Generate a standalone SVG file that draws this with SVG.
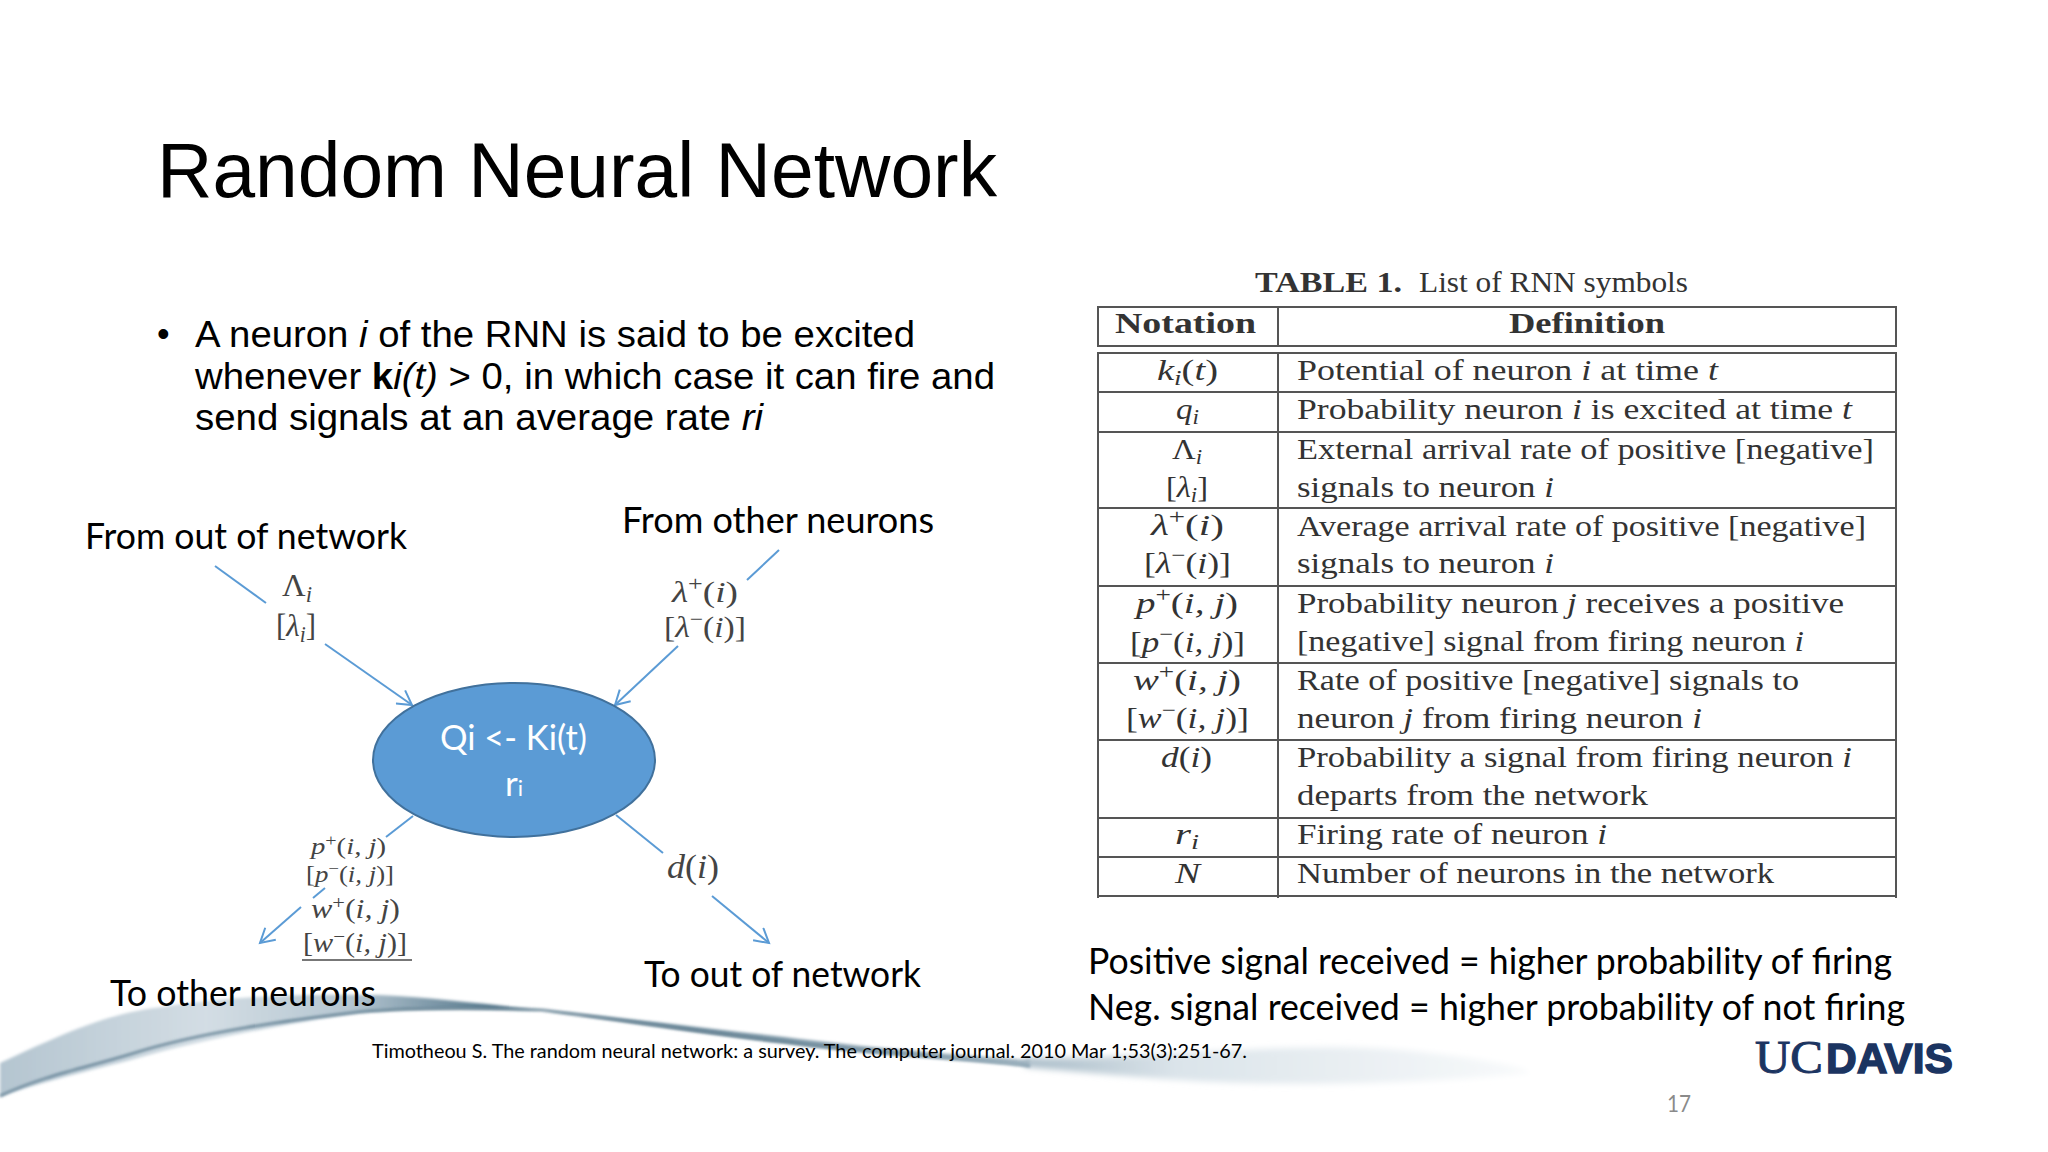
<svg xmlns="http://www.w3.org/2000/svg" width="2048" height="1152" viewBox="0 0 2048 1152">
<style>
.t{font-family:"Liberation Serif",serif;font-size:30px;fill:#333}
.m{font-family:"Liberation Serif",serif;font-size:30px;fill:#333;text-anchor:start}
.dm{font-family:"Liberation Serif",serif;fill:#444}
.i{font-style:italic}
.s{font-size:.7em}
.c{font-family:Lato,"Liberation Sans",sans-serif;fill:#000}
.rule{stroke:#555;stroke-width:2;fill:none}
.conn{stroke:#5b9bd5;stroke-width:2;fill:none}
</style>
<defs>
<marker id="open" markerWidth="18" markerHeight="18" refX="15" refY="9" orient="auto" markerUnits="userSpaceOnUse"><path d="M1 1L15 9L1 17" fill="none" stroke="#5b9bd5" stroke-width="2"/></marker>
<linearGradient id="sw" x1="0" y1="0" x2="1" y2="0"><stop offset="0" stop-color="#b4c5d0"/><stop offset=".2" stop-color="#d3dde4"/><stop offset=".34" stop-color="#b5c6d1"/><stop offset=".48" stop-color="#54768a"/><stop offset=".75" stop-color="#7c96a6"/><stop offset="1" stop-color="#a4b7c3"/></linearGradient>
<linearGradient id="tail" x1="0" y1="0" x2="1" y2="0"><stop offset="0" stop-color="#a9bcc8"/><stop offset=".3" stop-color="#dbe4ea"/><stop offset="1" stop-color="#f8fafb"/></linearGradient>
<linearGradient id="edge" x1="0" y1="0" x2="1" y2="0"><stop offset="0" stop-color="#56778c"/><stop offset=".7" stop-color="#46687c"/><stop offset="1" stop-color="#7f9aaa"/></linearGradient>
<filter id="b1" x="-5%" y="-20%" width="110%" height="140%"><feGaussianBlur stdDeviation="1.5"/></filter>
<filter id="b2" x="-5%" y="-50%" width="110%" height="200%"><feGaussianBlur stdDeviation="3"/></filter>
</defs>
<rect width="2048" height="1152" fill="#fff"/>

<g id="swoosh">
<path d="M1025 1058C1150 1060 1300 1040 1400 1050C1470 1056 1530 1068 1530 1073C1440 1082 1300 1088 1180 1080C1120 1076 1060 1070 1025 1067Z" fill="url(#tail)" filter="url(#b2)"/>
<path d="M0 1063C60 1035 110 1012 163 1007C230 995 320 994 379 995C440 998 500 1006 542 1010C620 1017 700 1028 784 1037C870 1048 960 1055 1030 1060L1030 1067C960 1058 870 1055 784 1043C700 1033 620 1020 542 1010C480 1008 410 1008 359 1013C290 1023 200 1040 131 1060C80 1073 30 1085 0 1097Z" fill="url(#sw)" filter="url(#b1)"/>
<path d="M0 1096C45 1075 85 1068 131 1054C200 1032 290 1020 359 1012C410 1008 480 1008 542 1010C620 1020 700 1033 784 1042C870 1054 960 1058 1030 1066" fill="none" stroke="url(#edge)" stroke-width="2" filter="url(#b1)"/>
</g>

<text x="157" y="197" font-family="Liberation Sans,sans-serif" font-size="78" fill="#000" textLength="840" lengthAdjust="spacingAndGlyphs">Random Neural Network</text>

<g id="bullet" font-family="Liberation Sans,sans-serif" font-size="36" fill="#000">
<text x="157" y="346">•</text>
<text x="195" y="347" textLength="720" lengthAdjust="spacingAndGlyphs">A neuron <tspan class="i">i</tspan> of the RNN is said to be excited</text>
<text x="195" y="389" textLength="800" lengthAdjust="spacingAndGlyphs">whenever <tspan font-weight="bold">k</tspan><tspan class="i">i(t)</tspan> &gt; 0, in which case it can fire and</text>
<text x="195" y="430" textLength="568" lengthAdjust="spacingAndGlyphs">send signals at an average rate <tspan class="i">ri</tspan></text>
</g>

<g id="connectors">
<path class="conn" d="M215 566L266 603"/>
<path class="conn" d="M325 644L412 705" marker-end="url(#open)"/>
<path class="conn" d="M779 550L747 580"/>
<path class="conn" d="M678 646L615 705" marker-end="url(#open)"/>
<path class="conn" d="M413 816L386 837"/>
<path class="conn" d="M325 888L313 898"/>
<path class="conn" d="M301 907L260 943" marker-end="url(#open)"/>
<path class="conn" d="M616 815L663 853"/>
<path class="conn" d="M712 896L769 943" marker-end="url(#open)"/>
</g>

<g id="neuron">
<ellipse cx="514" cy="760" rx="141" ry="77" fill="#5b9bd5" stroke="#41719c" stroke-width="2"/>
<text class="c" x="440" y="750" font-size="35" style="fill:#fff" textLength="147" lengthAdjust="spacingAndGlyphs">Qi &lt;- Ki(t)</text>
<text class="c" x="505" y="796" font-size="35" style="fill:#fff">r<tspan font-size="22">i</tspan></text>
</g>

<g id="label-from-out">
<text class="c" x="85" y="549" font-size="36" textLength="322" lengthAdjust="spacingAndGlyphs">From out of network</text>
<text class="dm" x="282" y="596" font-size="32" textLength="30" lengthAdjust="spacingAndGlyphs">Λ<tspan class="i s" dy="6">i</tspan></text>
<text class="dm" x="276" y="636" font-size="32" textLength="40" lengthAdjust="spacingAndGlyphs">[<tspan class="i">λ</tspan><tspan class="i s" dy="6">i</tspan><tspan dy="-6">]</tspan></text>
</g>
<g id="label-from-other">
<text class="c" x="622" y="533" font-size="36" textLength="312" lengthAdjust="spacingAndGlyphs">From other neurons</text>
<text class="dm" x="672" y="602" font-size="30" textLength="66" lengthAdjust="spacingAndGlyphs"><tspan class="i">λ</tspan><tspan class="s" dy="-11">+</tspan><tspan dy="11">(</tspan><tspan class="i">i</tspan>)</text>
<text class="dm" x="664" y="637" font-size="30" textLength="82" lengthAdjust="spacingAndGlyphs">[<tspan class="i">λ</tspan><tspan class="s" dy="-11">−</tspan><tspan dy="11">(</tspan><tspan class="i">i</tspan>)]</text>
</g>
<g id="label-to-other">
<text class="dm" x="311" y="854" font-size="23" textLength="75" lengthAdjust="spacingAndGlyphs"><tspan class="i">p</tspan><tspan class="s" dy="-8">+</tspan><tspan dy="8">(</tspan><tspan class="i">i, j</tspan>)</text>
<text class="dm" x="306" y="882" font-size="23" textLength="88" lengthAdjust="spacingAndGlyphs">[<tspan class="i">p</tspan><tspan class="s" dy="-8">−</tspan><tspan dy="8">(</tspan><tspan class="i">i, j</tspan>)]</text>
<text class="dm" x="311" y="918" font-size="27" textLength="89" lengthAdjust="spacingAndGlyphs"><tspan class="i">w</tspan><tspan class="s" dy="-9">+</tspan><tspan dy="9">(</tspan><tspan class="i">i, j</tspan>)</text>
<text class="dm" x="303" y="952" font-size="27" textLength="104" lengthAdjust="spacingAndGlyphs">[<tspan class="i">w</tspan><tspan class="s" dy="-9">−</tspan><tspan dy="9">(</tspan><tspan class="i">i, j</tspan>)]</text>
<path d="M302 960H412" stroke="#777" stroke-width="2"/>
<text class="c" x="110" y="1006" font-size="36" textLength="266" lengthAdjust="spacingAndGlyphs">To other neurons</text>
</g>
<g id="label-to-out">
<text class="dm" x="667" y="878" font-size="34" textLength="52" lengthAdjust="spacingAndGlyphs"><tspan class="i">d</tspan>(<tspan class="i">i</tspan>)</text>
<text class="c" x="644" y="987" font-size="36" textLength="277" lengthAdjust="spacingAndGlyphs">To out of network</text>
</g>

<g id="table">
<g transform="translate(-3 0)">
<text class="t" x="1258" y="292" font-weight="bold" font-size="28" textLength="147" lengthAdjust="spacingAndGlyphs">TABLE 1.</text>
<text class="t" x="1422" y="292" font-size="28" textLength="269" lengthAdjust="spacingAndGlyphs">List of RNN symbols</text>
<text class="t" x="1118" y="333" font-weight="bold" textLength="141" lengthAdjust="spacingAndGlyphs">Notation</text>
<text class="t" x="1512" y="333" font-weight="bold" textLength="156" lengthAdjust="spacingAndGlyphs">Definition</text>
<text class="t" x="1300" y="380" textLength="421" lengthAdjust="spacingAndGlyphs">Potential of neuron <tspan class="i">i</tspan> at time <tspan class="i">t</tspan></text>
<text class="t" x="1300" y="419" textLength="555" lengthAdjust="spacingAndGlyphs">Probability neuron <tspan class="i">i</tspan> is excited at time <tspan class="i">t</tspan></text>
<text class="t" x="1300" y="459" textLength="577" lengthAdjust="spacingAndGlyphs">External arrival rate of positive [negative]</text>
<text class="t" x="1300" y="497" textLength="257" lengthAdjust="spacingAndGlyphs">signals to neuron <tspan class="i">i</tspan></text>
<text class="t" x="1300" y="536" textLength="569" lengthAdjust="spacingAndGlyphs">Average arrival rate of positive [negative]</text>
<text class="t" x="1300" y="573" textLength="257" lengthAdjust="spacingAndGlyphs">signals to neuron <tspan class="i">i</tspan></text>
<text class="t" x="1300" y="613" textLength="547" lengthAdjust="spacingAndGlyphs">Probability neuron <tspan class="i">j</tspan> receives a positive</text>
<text class="t" x="1300" y="651" textLength="507" lengthAdjust="spacingAndGlyphs">[negative] signal from firing neuron <tspan class="i">i</tspan></text>
<text class="t" x="1300" y="690" textLength="502" lengthAdjust="spacingAndGlyphs">Rate of positive [negative] signals to</text>
<text class="t" x="1300" y="728" textLength="405" lengthAdjust="spacingAndGlyphs">neuron <tspan class="i">j</tspan> from firing neuron <tspan class="i">i</tspan></text>
<text class="t" x="1300" y="767" textLength="555" lengthAdjust="spacingAndGlyphs">Probability a signal from firing neuron <tspan class="i">i</tspan></text>
<text class="t" x="1300" y="805" textLength="351" lengthAdjust="spacingAndGlyphs">departs from the network</text>
<text class="t" x="1300" y="844" textLength="310" lengthAdjust="spacingAndGlyphs">Firing rate of neuron <tspan class="i">i</tspan></text>
<text class="t" x="1300" y="883" textLength="477" lengthAdjust="spacingAndGlyphs">Number of neurons in the network</text>
</g>
<path class="rule" d="M1098 307H1896V346H1098ZM1278 307V346"/>
<path class="rule" d="M1098 898V353H1896V898M1278 353V898M1098 392H1896M1098 432H1896M1098 508H1896M1098 586H1896M1098 663H1896M1098 740H1896M1098 818H1896M1098 857H1896M1098 896H1896"/>
<g transform="translate(-1 0)">
<text class="m" x="1158" y="380" textLength="61" lengthAdjust="spacingAndGlyphs"><tspan class="i">k</tspan><tspan class="i s" dy="5">i</tspan><tspan dy="-5">(</tspan><tspan class="i">t</tspan>)</text>
<text class="m" x="1177" y="419" textLength="23" lengthAdjust="spacingAndGlyphs"><tspan class="i">q</tspan><tspan class="i s" dy="5">i</tspan></text>
<text class="m" x="1173" y="459" textLength="30" lengthAdjust="spacingAndGlyphs">Λ<tspan class="i s" dy="5">i</tspan></text>
<text class="m" x="1167" y="497" textLength="42" lengthAdjust="spacingAndGlyphs">[<tspan class="i">λ</tspan><tspan class="i s" dy="5">i</tspan><tspan dy="-5">]</tspan></text>
<text class="m" x="1152" y="535" textLength="73" lengthAdjust="spacingAndGlyphs"><tspan class="i">λ</tspan><tspan class="s" dy="-11">+</tspan><tspan dy="11">(</tspan><tspan class="i">i</tspan>)</text>
<text class="m" x="1145" y="573" textLength="87" lengthAdjust="spacingAndGlyphs">[<tspan class="i">λ</tspan><tspan class="s" dy="-11">−</tspan><tspan dy="11">(</tspan><tspan class="i">i</tspan>)]</text>
<text class="m" x="1137" y="613" textLength="102" lengthAdjust="spacingAndGlyphs"><tspan class="i">p</tspan><tspan class="s" dy="-11">+</tspan><tspan dy="11">(</tspan><tspan class="i">i, j</tspan>)</text>
<text class="m" x="1131" y="652" textLength="115" lengthAdjust="spacingAndGlyphs">[<tspan class="i">p</tspan><tspan class="s" dy="-11">−</tspan><tspan dy="11">(</tspan><tspan class="i">i, j</tspan>)]</text>
<text class="m" x="1134" y="690" textLength="108" lengthAdjust="spacingAndGlyphs"><tspan class="i">w</tspan><tspan class="s" dy="-11">+</tspan><tspan dy="11">(</tspan><tspan class="i">i, j</tspan>)</text>
<text class="m" x="1127" y="728" textLength="123" lengthAdjust="spacingAndGlyphs">[<tspan class="i">w</tspan><tspan class="s" dy="-11">−</tspan><tspan dy="11">(</tspan><tspan class="i">i, j</tspan>)]</text>
<text class="m" x="1162" y="767" textLength="51" lengthAdjust="spacingAndGlyphs"><tspan class="i">d</tspan>(<tspan class="i">i</tspan>)</text>
<text class="m" x="1176" y="844" textLength="24" lengthAdjust="spacingAndGlyphs"><tspan class="i">r</tspan><tspan class="i s" dy="5">i</tspan></text>
<text class="m i" x="1176" y="883" textLength="25" lengthAdjust="spacingAndGlyphs">N</text>
</g>
</g>

<g id="notes">
<text class="c" x="1088" y="974" font-size="37" textLength="804" lengthAdjust="spacingAndGlyphs">Positive signal received = higher probability of firing</text>
<text class="c" x="1088" y="1020" font-size="37" textLength="817" lengthAdjust="spacingAndGlyphs">Neg. signal received = higher probability of not firing</text>
<text class="c" x="372" y="1058" font-size="20" textLength="875" lengthAdjust="spacingAndGlyphs">Timotheou S. The random neural network: a survey. The computer journal. 2010 Mar 1;53(3):251-67.</text>
<text class="c" x="1667" y="1112" font-size="24" style="fill:#8a8a8a" textLength="24" lengthAdjust="spacingAndGlyphs">17</text>
</g>

<g id="logo" fill="#1b3461">
<text x="1755" y="1073" font-family="Liberation Serif,serif" font-size="47" stroke="#1b3461" stroke-width="1" textLength="68" lengthAdjust="spacingAndGlyphs">UC</text>
<text x="1826" y="1073" font-family="Liberation Sans,sans-serif" font-weight="bold" font-size="43" stroke="#1b3461" stroke-width="1.5" textLength="127" lengthAdjust="spacingAndGlyphs">DAVIS</text>
</g>
</svg>
